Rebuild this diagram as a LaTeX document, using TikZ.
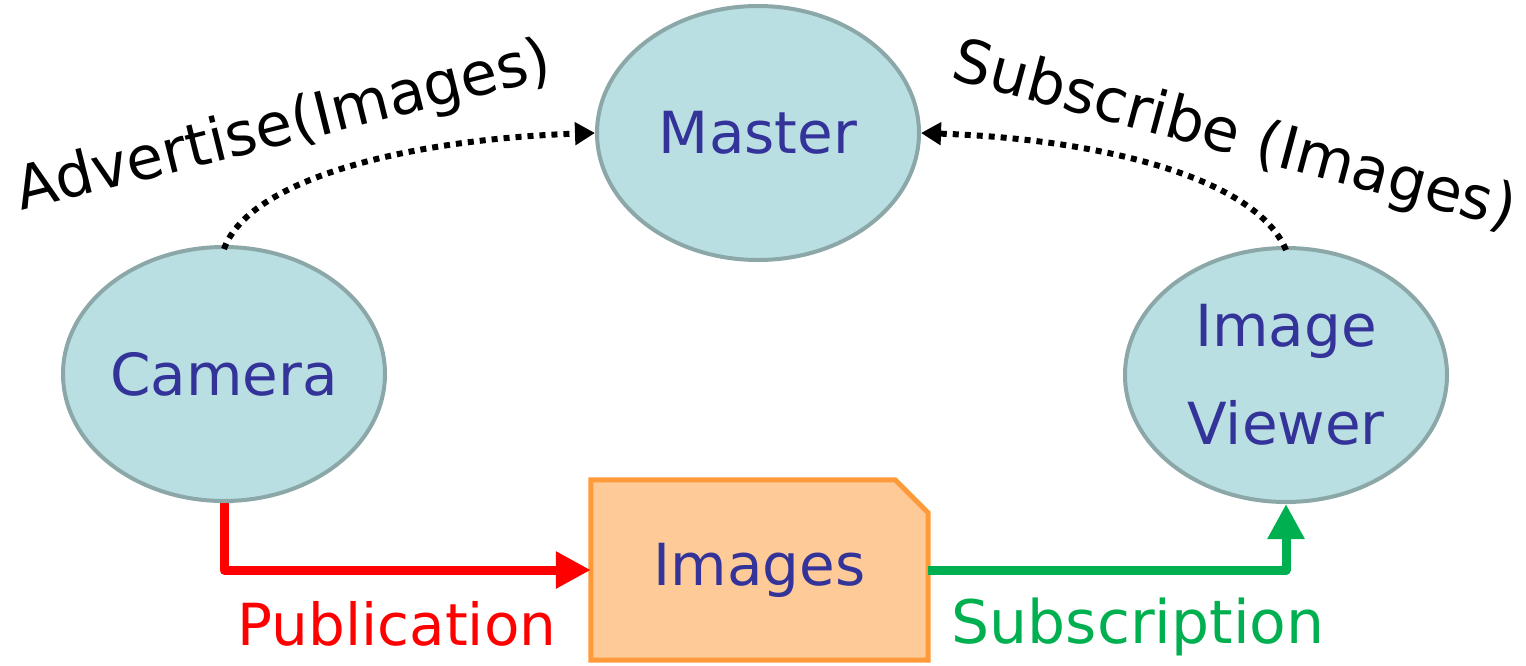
\documentclass[tikz,border=0pt]{standalone}
\usepackage{fontspec}
\setmainfont{DejaVu Sans}
\usetikzlibrary{shapes.geometric,arrows.meta}
\definecolor{nodefill}{HTML}{B9DFE2}
\definecolor{nodeline}{HTML}{8BA7A8}
\definecolor{nodetext}{HTML}{333399}
\definecolor{boxfill}{HTML}{FDCA98}
\definecolor{boxline}{HTML}{FF9A3A}
\definecolor{pubred}{HTML}{FF0000}
\definecolor{subgreen}{HTML}{00B050}
\tikzset{
  rosnode/.style={ellipse, draw=nodeline, fill=nodefill, line width=4pt,
    minimum width=322pt, minimum height=254pt, inner sep=0pt,
    text=nodetext, font=\fontsize{58}{98}\selectfont, align=center},
  topicbox/.style={minimum width=337pt, minimum height=180pt, inner sep=0pt,
    text=nodetext, font=\fontsize{58}{70}\selectfont},
  msglink/.style={line width=6pt, dash pattern=on 6pt off 6pt,
    -{Triangle[length=20pt,width=22pt]}},
  flowline/.style={line width=9pt, line join=round,
    -{Triangle[length=35pt,width=35pt]}},
  tag/.style={font=\fontsize{60}{70}\selectfont, inner sep=0pt},
}
\begin{document}
\begin{tikzpicture}[x=1pt,y=-1pt]
\useasboundingbox (0,0) rectangle (1526,665);

% ROS nodes
\node[rosnode] (master) at (758,133) {Master};
\node[rosnode] (camera) at (224,374) {Camera};
\node[rosnode] (viewer) at (1286,375) {Image\\Viewer};

% topic box with a clipped corner
\node[topicbox] (images) at (759.5,570) {};
\draw[draw=boxline, fill=boxfill, line width=5pt, line join=miter]
  (images.south west) -- (images.north west)
  -- ([xshift=-33pt]images.north east) -- ([yshift=-33pt]images.north east)
  -- (images.south east) -- cycle;
\node[topicbox] at (images.center) {Images};

% registration with the master
\draw[msglink] ([yshift=-4pt]camera.north) .. controls +(26,-72) and +(-180,6) .. (master.west);
\draw[msglink] ([yshift=-4pt]viewer.north) .. controls +(-30,-72) and +(180,6) .. (master.east);

% data flow through the topic
\draw[flowline, pubred] (camera.south) |- (images.west);
\draw[flowline, subgreen] (images.east) -| (viewer.south);

% labels
\node[tag, rotate=14] (adv) at (284,128) {Advertise(Images)};
\node[tag, rotate=-15] (sub) at (1234,138) {Subscribe (Images)};
\node[tag, text=pubred, font=\fontsize{58}{70}\selectfont] (pub) at (397,624) {Publication};
\node[tag, text=subgreen] (subn) at (1138,627) {Subscription};
\end{tikzpicture}
\end{document}
